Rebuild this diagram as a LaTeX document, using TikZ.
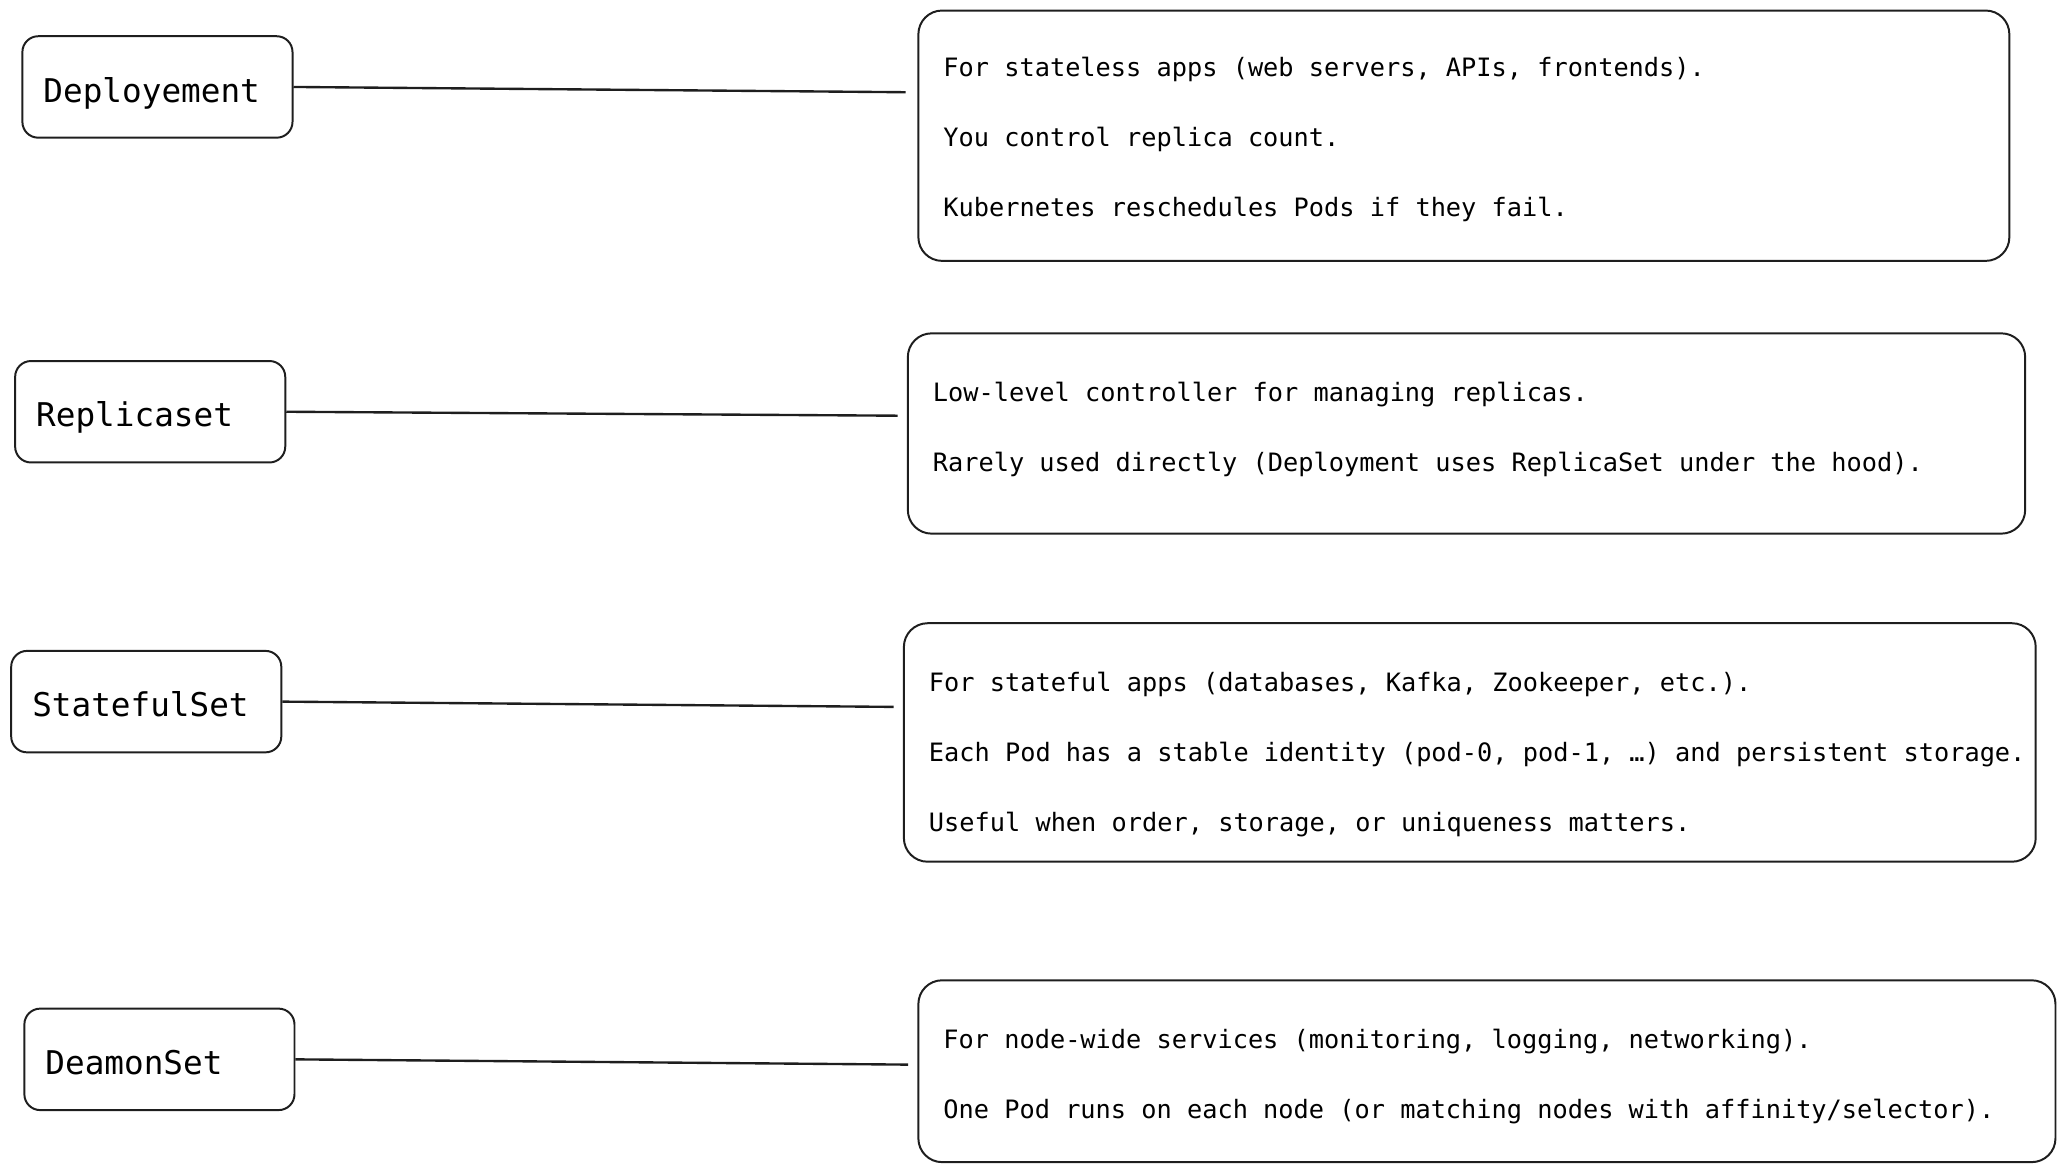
\documentclass[tikz,border=0pt]{standalone}
\usepackage{fontspec}
\setmonofont{DejaVu Sans Mono}
\usetikzlibrary{calc}
\definecolor{ink}{HTML}{1E1E1E}
\tikzstyle{kind} = [draw=ink, line width=1.5pt, rectangle, rounded corners=12pt, text height=50pt, text depth=27pt, inner ysep=0pt, text width=173pt, inner xsep=16pt, align=flush left, font=\ttfamily\fontsize{24.8}{30}\selectfont]
\tikzstyle{note} = [draw=ink, line width=1.5pt, rectangle, rounded corners=18pt, inner ysep=0pt, inner xsep=19pt, align=flush left, font=\ttfamily\fontsize{19.2}{53}\selectfont]
\tikzstyle{link} = [draw=ink, line width=1.8pt]

\begin{document}
\begin{tikzpicture}[x=1pt, y=-1pt]
	\useasboundingbox (0,0) rectangle (1568,890);

	\node [kind] (deployment) at (119.5,66) {Deployement};
	\node [kind] (replicaset) at (114,312.5) {Replicaset};
	\node [kind] (statefulset) at (111,532.5) {StatefulSet};
	\node [kind] (daemonset) at (121,804) {DeamonSet};

	\node [note, text width=790pt, text height=50pt, text depth=140pt] (deploymentNote) at (1111,103) {For stateless apps (web servers, APIs, frontends).\\You control replica count.\\Kubernetes reschedules Pods if they fail.};
	\node [note, text width=810pt, text height=52pt, text depth=100pt] (replicasetNote) at (1113,329) {Low-level controller for managing replicas.\\Rarely used directly (Deployment uses ReplicaSet under the hood).};
	\node [note, text width=821pt, text height=52pt, text depth=129pt] (statefulsetNote) at (1115.5,563.5) {For stateful apps (databases, Kafka, Zookeeper, etc.).\\\mbox{Each Pod has a stable identity (pod-0, pod-1, …) and persistent storage.}\\Useful when order, storage, or uniqueness matters.};
	\node [note, text width=825pt, text height=52pt, text depth=86pt] (daemonsetNote) at (1128.5,813) {For node-wide services (monitoring, logging, networking).\\One Pod runs on each node (or matching nodes with affinity/selector).};

	\draw [link] (deployment.east) -- ($(deployment.east -| deploymentNote.west)+(-9,4)$);
	\draw [link] (replicaset.east) -- ($(replicaset.east -| replicasetNote.west)+(-7,3)$);
	\draw [link] (statefulset.east) -- ($(statefulset.east -| statefulsetNote.west)+(-7,4)$);
	\draw [link] (daemonset.east) -- ($(daemonset.east -| daemonsetNote.west)+(-7,4)$);
\end{tikzpicture}
\end{document}
